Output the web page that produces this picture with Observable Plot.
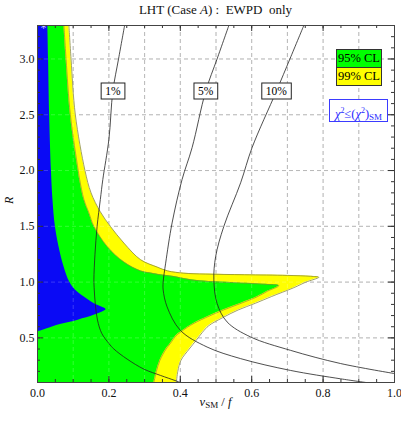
<!DOCTYPE html>
<html><head><meta charset="utf-8">
<script src="https://cdn.jsdelivr.net/npm/d3@7"></script>
<script src="https://cdn.jsdelivr.net/npm/@observablehq/plot@0.6"></script>
<style>
body{margin:0;background:#fff;font-family:"Liberation Serif","Times New Roman",serif;}
#wrap{position:relative;width:401px;height:422px;overflow:hidden;}
#wrap svg{position:absolute;left:0;top:0;font-family:"Liberation Serif","Times New Roman",serif !important;}
#wrap svg text{font-family:"Liberation Serif","Times New Roman",serif !important;}
.ov{position:absolute;line-height:1;color:#111;white-space:pre;}
.cl{position:absolute;box-sizing:border-box;width:46px;height:19px;border:1px solid #333;font-size:12.5px;text-align:center;line-height:17px;color:#000;}
.sm{position:absolute;box-sizing:border-box;border:1.3px solid #3b3bff;background:#fff;color:#2a2aff;font-size:12.5px;text-align:center;}
</style></head><body><div id="wrap"></div>
<script>
// ---- Data ----
const titleParts = ["LHT (Case ", "A", ") :  EWPD  only"];

// 99% CL region (yellow): right boundary x as function of R
const yellowR = [0.10, 0.20, 0.30, 0.40, 0.48, 0.55, 0.61, 0.68, 0.75, 0.81, 0.87, 0.95, 1.00, 1.043, 1.052, 1.060, 1.066, 1.072, 1.08, 1.10, 1.135, 1.20, 1.35, 1.50, 1.63, 1.80, 2.00, 2.50, 3.00, 3.30];
const yellowV = [0.389, 0.393, 0.402, 0.425, 0.445, 0.462, 0.480, 0.518, 0.562, 0.610, 0.655, 0.718, 0.752, 0.788, 0.765, 0.700, 0.580, 0.470, 0.410, 0.365, 0.335, 0.289, 0.242, 0.204, 0.176, 0.150, 0.133, 0.106, 0.094, 0.088];

// 95% CL region (green)
const greenR = [0.10, 0.20, 0.30, 0.40, 0.45, 0.52, 0.55, 0.614, 0.68, 0.749, 0.81, 0.868, 0.92, 0.968, 0.98, 0.995, 1.005, 1.02, 1.05, 1.065, 1.08, 1.10, 1.18, 1.32, 1.50, 1.62, 1.74, 1.92, 2.00, 2.50, 3.00, 3.30];
const greenV = [0.326, 0.333, 0.343, 0.360, 0.372, 0.388, 0.400, 0.429, 0.470, 0.520, 0.570, 0.615, 0.645, 0.676, 0.640, 0.550, 0.480, 0.430, 0.382, 0.345, 0.320, 0.289, 0.242, 0.195, 0.158, 0.144, 0.130, 0.118, 0.114, 0.092, 0.080, 0.074];

// chi^2 <= chi^2_SM region (blue)
const blueR = [0.553, 0.58, 0.62, 0.659, 0.704, 0.755, 0.78, 0.809, 0.868, 0.929, 1.00, 1.14, 1.32, 1.50, 1.75, 2.00, 2.50, 3.00, 3.30];
const blueV = [0.000, 0.025, 0.064, 0.114, 0.160, 0.192, 0.178, 0.158, 0.130, 0.106, 0.090, 0.074, 0.060, 0.050, 0.043, 0.039, 0.034, 0.031, 0.029];

// fine-tuning contours
const ft1R = [3.30, 3.00, 2.71, 2.28, 1.92, 1.74, 1.50, 1.25, 1.02, 0.93, 0.80, 0.66, 0.54, 0.45, 0.40, 0.31, 0.22, 0.163, 0.118, 0.10];
const ft1V = [0.244, 0.227, 0.211, 0.200, 0.183, 0.176, 0.167, 0.161, 0.158, 0.159, 0.162, 0.168, 0.180, 0.200, 0.214, 0.251, 0.298, 0.345, 0.385, 0.400];
const ft5R = [3.30, 3.00, 2.71, 2.205, 1.92, 1.53, 1.17, 1.00, 0.93, 0.778, 0.568, 0.418, 0.314, 0.208, 0.133, 0.10];
const ft5V = [0.536, 0.503, 0.471, 0.433, 0.405, 0.377, 0.359, 0.352, 0.352, 0.363, 0.400, 0.475, 0.569, 0.709, 0.849, 0.920];
const ft10R = [3.30, 3.00, 2.71, 2.205, 1.89, 1.50, 1.229, 1.02, 0.809, 0.643, 0.508, 0.388, 0.27, 0.18];
const ft10V = [0.746, 0.707, 0.669, 0.601, 0.569, 0.522, 0.499, 0.494, 0.503, 0.531, 0.597, 0.709, 0.849, 1.000];

const ftLabels = ["1%", "5%", "10%"];
const ftLabelV = [0.211, 0.471, 0.669];
const ftLabelR = [2.71, 2.71, 2.71];

const smPointV = [0.017];
const smPointR = [3.275];

const legendLabels = ["95% CL", "99% CL"];

const xMajor = [0, 0.2, 0.4, 0.6, 0.8, 1.0];
const xMinor = d3.range(0, 1.0001, 0.05);
const xGrid = [0.1, 0.2, 0.3, 0.4, 0.5, 0.6, 0.7, 0.8, 0.9];
const yMajor = [0.5, 1.0, 1.5, 2.0, 2.5, 3.0];
const yMinor = d3.range(0.1, 3.3001, 0.1);
const yGrid = [0.5, 1.0, 1.5, 2.0, 2.5, 3.0];

// ---- Build tables ----
const zip = (R, V) => R.map((r, i) => ({r, v: V[i]}));
const yellow = zip(yellowR, yellowV);
const green = zip(greenR, greenV);
const blue = zip(blueR, blueV);
const contours = [
  ...zip(ft1R, ft1V).map(d => ({...d, k: "1"})),
  ...zip(ft5R, ft5V).map(d => ({...d, k: "5"})),
  ...zip(ft10R, ft10V).map(d => ({...d, k: "10"}))
];
const labels = ftLabels.map((t, i) => ({t, v: ftLabelV[i], r: ftLabelR[i]}));

const W = 401, H = 422, mL = 37, mR = 7, mT = 25, mB = 40;
const innerW = W - mL - mR, innerH = H - mT - mB;
const curve = "catmull-rom";
const edge = "#8c8c3a";
const serif = '"Liberation Serif", "Times New Roman", serif';

const chart = Plot.plot({
  width: W, height: H,
  marginLeft: mL, marginRight: mR, marginTop: mT, marginBottom: mB,
  x: {domain: [0, 1]},
  y: {domain: [0.1, 3.3]},
  style: {fontFamily: serif, fontSize: "11.5px", background: "white", color: "#111"},
  marks: [
    Plot.ruleX(xGrid, {x: d => d, stroke: "#a8a8a8", strokeDasharray: "4,3", strokeWidth: 1}),
    Plot.ruleY(yGrid, {y: d => d, stroke: "#a8a8a8", strokeDasharray: "4,3", strokeWidth: 1}),
    Plot.areaX(yellow, {y: "r", x1: 0, x2: "v", fill: "#ffff00", curve, clip: true}),
    Plot.line(yellow, {x: "v", y: "r", stroke: edge, strokeWidth: 0.8, curve, clip: true}),
    Plot.areaX(green, {y: "r", x1: 0, x2: "v", fill: "#00ff00", curve, clip: true}),
    Plot.line(green, {x: "v", y: "r", stroke: edge, strokeWidth: 0.7, curve, clip: true}),
    Plot.areaX(blue, {y: "r", x1: 0, x2: "v", fill: "#0a0af5", curve, clip: true}),
    Plot.ruleX(xGrid, {x: d => d, stroke: "#ffffff", strokeOpacity: 0.2, strokeDasharray: "4,3"}),
    Plot.ruleY(yGrid, {y: d => d, stroke: "#ffffff", strokeOpacity: 0.2, strokeDasharray: "4,3"}),
    Plot.text(smPointV, {x: d => d, y: (d, i) => smPointR[i], text: () => "*", fill: "#d8d8ff", fontSize: 12}),
    Plot.line(contours, {x: "v", y: "r", z: "k", stroke: "#222", strokeWidth: 0.8, curve, clip: true}),
    Plot.text(labels, {x: "v", y: "r", text: "t", fill: "#000", fontSize: 11.5}),
    // inward frame ticks
    Plot.tickX(xMinor, {x: d => d, insetTop: innerH - 3, stroke: "#333"}),
    Plot.tickX(xMajor, {x: d => d, insetTop: innerH - 6, stroke: "#333"}),
    Plot.tickX(xMinor, {x: d => d, insetBottom: innerH - 3, stroke: "#333"}),
    Plot.tickX(xMajor, {x: d => d, insetBottom: innerH - 6, stroke: "#333"}),
    Plot.tickY(yMinor, {y: d => d, insetRight: innerW - 3, stroke: "#333"}),
    Plot.tickY(yMajor, {y: d => d, insetRight: innerW - 6, stroke: "#333"}),
    Plot.tickY(yMinor, {y: d => d, insetLeft: innerW - 3, stroke: "#333"}),
    Plot.tickY(yMajor, {y: d => d, insetLeft: innerW - 6, stroke: "#333"}),
    Plot.axisX({ticks: xMajor, tickSize: 0, tickPadding: 6, tickFormat: d3.format(".1f"), label: null, fontSize: 12}),
    Plot.axisY({ticks: yMajor, tickSize: 0, tickPadding: 3, tickFormat: d3.format(".1f"), label: null, fontSize: 12}),
    Plot.text(["R"], {frameAnchor: "left", dx: -28, rotate: -90, fontStyle: "italic", fontSize: 12, text: d => d}),
    Plot.frame({stroke: "#444", strokeWidth: 1})
  ]
});
chart.setAttribute("font-family", serif);

const wrap = document.getElementById("wrap");
wrap.append(chart);

// white boxes behind the contour labels
[...chart.querySelectorAll("text")]
  .filter(t => ftLabels.includes(t.textContent))
  .forEach(t => {
    const b = t.getBBox();
    const r = document.createElementNS("http://www.w3.org/2000/svg", "rect");
    r.setAttribute("x", b.x - 4);
    r.setAttribute("y", b.y - 2);
    r.setAttribute("width", b.width + 8);
    r.setAttribute("height", b.height + 4);
    r.setAttribute("fill", "white");
    r.setAttribute("stroke", "#222");
    r.setAttribute("stroke-width", "1");
    const tr = t.getAttribute("transform");
    if (tr) r.setAttribute("transform", tr);
    t.parentNode.insertBefore(r, t);
  });

// title
const title = document.createElement("div");
title.className = "ov";
title.style.cssText = "left:37px;width:357px;top:3px;text-align:center;font-size:13px;";
title.innerHTML = `${titleParts[0]}<i>${titleParts[1]}</i>${titleParts[2]}`;
wrap.append(title);

// x label
const xl = document.createElement("div");
xl.className = "ov";
xl.style.cssText = "left:37px;width:357px;top:396px;text-align:center;font-size:12.5px;";
xl.innerHTML = `<i>v</i><span style="font-size:9px;position:relative;top:2px">SM</span> / <i>f</i>`;
wrap.append(xl);

// legend
const legendColors = ["#00ff00", "#ffff00"];
legendLabels.forEach((t, i) => {
  const d = document.createElement("div");
  d.className = "cl";
  d.style.left = "336px";
  d.style.top = (49 + i * 19) + "px";
  d.style.background = legendColors[i];
  if (i > 0) { d.style.borderTop = "none"; d.style.height = "18px"; d.style.lineHeight = "17px"; }
  d.textContent = t;
  wrap.append(d);
});
const sm = document.createElement("div");
sm.className = "sm";
sm.style.cssText += "left:329px;top:99px;width:59px;height:23px;line-height:21px;";
sm.innerHTML = `<i>χ</i><sup style="font-size:8px">2</sup>≤(<i>χ</i><sup style="font-size:8px">2</sup>)<span style="font-size:9px;position:relative;top:2px">SM</span>`;
wrap.append(sm);
</script>
</body></html>
